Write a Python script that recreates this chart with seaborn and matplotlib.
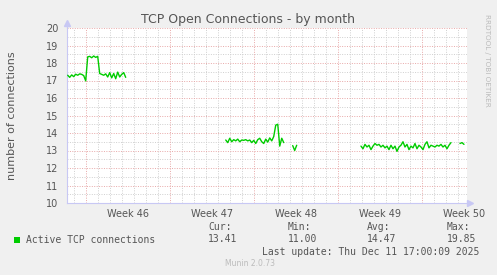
import numpy as np
import pandas as pd
import matplotlib
matplotlib.use("Agg")
import matplotlib.pyplot as plt
import seaborn as sns

# ---- data (days relative to Mon Nov 10 2025 00:00, 4-hour steps) ----
STEP = 1.0 / 6.0
seg1_start = -1.5
seg1_values = [17.30, 17.18, 17.32, 17.22, 17.36, 17.30, 17.38, 17.35, 17.28, 16.98,
               18.35, 18.38, 18.30, 18.40, 18.32, 18.38, 17.40, 17.35, 17.30, 17.38,
               17.20, 17.45, 17.15, 17.40, 17.10, 17.48, 17.20, 17.35, 17.45, 17.18]
seg2_start = 11.67
seg2_values = [13.60, 13.45, 13.70, 13.50, 13.62, 13.55, 13.65, 13.50, 13.60, 13.58,
               13.62, 13.55, 13.60, 13.45, 13.58, 13.40, 13.62, 13.70, 13.50, 13.40,
               13.65, 13.48, 13.72, 13.55, 13.80, 14.45, 14.50, 13.25, 13.70, 13.45]
seg3_start = 17.25
seg3_values = [13.28, 13.00, 13.30]
seg4_start = 22.94
seg4_values = [13.25, 13.10, 13.35, 13.20, 13.30, 13.05, 13.25, 13.40, 13.30, 13.35,
               13.20, 13.30, 13.15, 13.25, 13.05, 13.30, 13.10, 13.25, 12.95, 13.20,
               13.30, 13.50, 13.20, 13.35, 13.05, 13.25, 13.15, 13.40, 13.10, 13.30,
               13.20, 13.05, 13.35, 13.50, 13.15, 13.30, 13.25, 13.20, 13.30, 13.25,
               13.35, 13.20, 13.30, 13.10, 13.30, 13.45]
seg5_start = 31.19
seg5_values = [13.40, 13.45, 13.35]

week_labels = ["Week 46", "Week 47", "Week 48", "Week 49", "Week 50"]
week_starts = [0, 7, 14, 21, 28]
y_ticks = list(range(10, 21))
legend_label = "Active TCP connections"
stats = [("Cur:", "13.41"), ("Min:", "11.00"), ("Avg:", "14.47"), ("Max:", "19.85")]
last_update = "Last update: Thu Dec 11 17:00:09 2025"

rows = []
for sid, (start, vals) in enumerate([(seg1_start, seg1_values), (seg2_start, seg2_values),
                                     (seg3_start, seg3_values), (seg4_start, seg4_values),
                                     (seg5_start, seg5_values)]):
    for i, v in enumerate(vals):
        rows.append({"day": start + i * STEP, "value": v, "seg": sid})
df = pd.DataFrame(rows)

sns.set_theme(style="white")
plt.rcParams['font.family'] = ['DejaVu Sans']

W, H = 497, 275
fig = plt.figure(figsize=(W / 100, H / 100), dpi=100, facecolor="#F0F0F0")
L, R, T, B = 67, 467, 28, 203
ax = fig.add_axes([L / W, 1 - B / H, (R - L) / W, (B - T) / H])
ax.set_facecolor("white")

xmin, xmax = (L - 85.7) / 12.0, (R - 85.7) / 12.0
ax.set_xlim(xmin, xmax)
ax.set_ylim(10, 20)

red = "#E8A8A8"
grey = "#CFCFCF"
dot = (0, (1, 1.5))
for d in np.arange(np.ceil(xmin), xmax, 1.0):
    if int(d) % 7 != 0:
        ax.axvline(d, color=grey, lw=0.7, ls=dot, zorder=1)
for y in np.arange(10.5, 20, 1.0):
    ax.axhline(y, color=grey, lw=0.7, ls=dot, zorder=1)
for d in week_starts:
    ax.axvline(d, color=red, lw=0.7, ls=dot, zorder=1.5)
for y in y_ticks[1:]:
    ax.axhline(y, color=red, lw=0.7, ls=dot, zorder=1.5)

sns.lineplot(data=df, x="day", y="value", units="seg", estimator=None,
             color="#00CC00", lw=1.0, ax=ax, legend=False, zorder=3)

ax.set_xlabel("")
ax.set_ylabel("number of connections", fontsize=8, color="#555555", labelpad=21)
ax.set_xticks([w + 3.5 for w in week_starts])
ax.set_xticklabels(week_labels)
ax.set_yticks(y_ticks)
ax.set_yticklabels([str(t) for t in y_ticks])
ax.tick_params(axis="both", labelsize=7, colors="#555555", length=0)
ax.tick_params(axis="x", pad=4)
ax.tick_params(axis="y", pad=6)

for s in ["top", "right"]:
    ax.spines[s].set_visible(False)
axis_col = "#C8C8F4"
ax.spines["left"].set_color(axis_col)
ax.spines["bottom"].set_color(axis_col)
ax.spines["left"].set_linewidth(0.8)
ax.spines["bottom"].set_linewidth(0.8)
ax.plot([0, 0], [1, 1.03], color=axis_col, lw=0.8, transform=ax.transAxes, clip_on=False)
ax.plot([0], [1.03], marker="^", ms=4, color=axis_col, transform=ax.transAxes, clip_on=False)
ax.plot([1, 1.008], [0, 0], color=axis_col, lw=0.8, transform=ax.transAxes, clip_on=False)
ax.plot([1.008], [0], marker=">", ms=4, color=axis_col, transform=ax.transAxes, clip_on=False)

txt = "#555555"
fig.text(248 / W, 1 - 19 / H, "TCP Open Connections - by month", ha="center", va="center",
         fontsize=9, color=txt)
fig.text(487 / W, 1 - 60 / H, "RRDTOOL / TOBI OETIKER", ha="center", va="center",
         rotation=270, fontsize=5.2, color="#BBBBBB")

mono = "DejaVu Sans Mono"
fig.patches.append(plt.Rectangle((14 / W, 1 - 243 / H), 6 / W, 6 / H, transform=fig.transFigure,
                                 facecolor="#00CC00", edgecolor="none"))
fig.text(26 / W, 1 - 240 / H, legend_label, ha="left", va="center", fontsize=7,
         family=mono, color=txt)
xs = [208, 288, 367, 447]
for x0, (lab, val) in zip(xs, stats):
    fig.text(x0 / W, 1 - 227.5 / H, lab, ha="left", va="center", fontsize=7, family=mono, color=txt)
    fig.text(x0 / W, 1 - 239.5 / H, val, ha="left", va="center", fontsize=7, family=mono, color=txt)
fig.text(262 / W, 1 - 251.7 / H, last_update, ha="left", va="center", fontsize=7,
         family=mono, color=txt)
fig.text(250 / W, 1 - 264 / H, "Munin 2.0.73", ha="center", va="center", fontsize=5.5,
         color="#BBBBBB")

fig.savefig("out.png", dpi=100, facecolor=fig.get_facecolor())
